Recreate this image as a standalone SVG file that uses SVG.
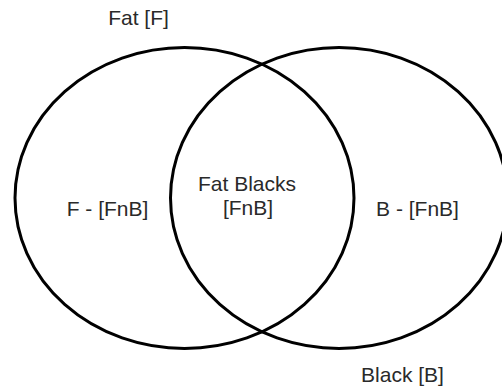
<svg xmlns="http://www.w3.org/2000/svg" width="502" height="390" viewBox="0 0 502 390">
<style>
.set{fill:none;stroke:#000;stroke-width:3}
text{font-family:"Liberation Sans",Arial,sans-serif;font-size:21px;fill:#2a2a2a;text-anchor:middle}
</style>
<rect width="502" height="390" fill="#fff"/>
<g id="fat">
<ellipse class="set" cx="184.5" cy="198" rx="169.5" ry="150.5"/>
<text x="138.5" y="25">Fat [F]</text>
<text x="107.5" y="216">F - [FnB]</text>
</g>
<g id="black">
<ellipse class="set" cx="339" cy="198" rx="168.5" ry="150.5"/>
<text x="402.5" y="382">Black [B]</text>
<text x="417.5" y="216">B - [FnB]</text>
</g>
<g id="intersection">
<text x="247" y="191">Fat Blacks</text>
<text x="248" y="215">[FnB]</text>
</g>
<g id="connectors"/>
</svg>
